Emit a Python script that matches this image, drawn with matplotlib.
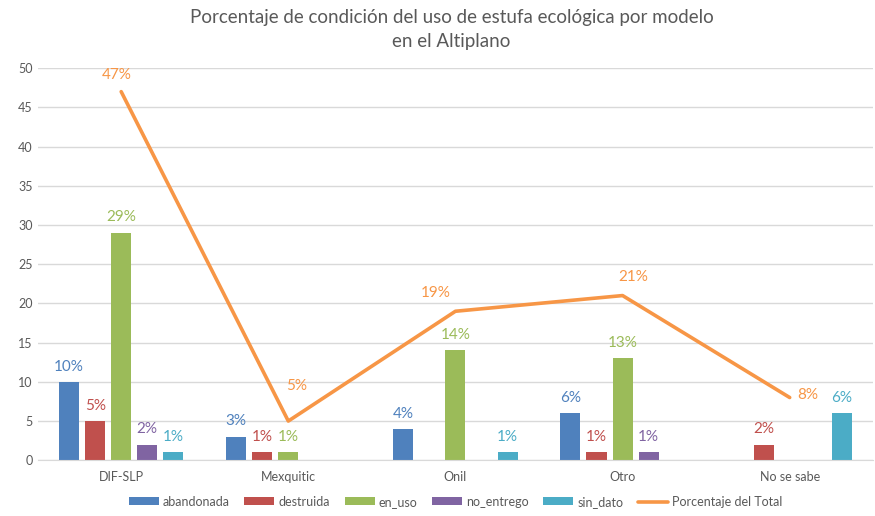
import numpy as np
import matplotlib
matplotlib.use("Agg")
import matplotlib.pyplot as plt
from matplotlib.ticker import MultipleLocator

plt.rcParams['font.family'] = ['Lato', 'DejaVu Sans']

# data
modelos = ["DIF-SLP", "Mexquitic", "Onil", "Otro", "No se sabe"]
abandonada = [10, 3, 4, 6, 0]
destruida = [5, 1, 0, 1, 2]
en_uso = [29, 1, 14, 13, 0]
no_entrego = [2, 0, 0, 1, 0]
sin_dato = [1, 0, 1, 0, 6]
porcentaje_total = [47, 5, 19, 21, 8]

series = [("abandonada", abandonada, "#4F81BD"),
          ("destruida", destruida, "#C0504D"),
          ("en_uso", en_uso, "#9BBB59"),
          ("no_entrego", no_entrego, "#8064A2"),
          ("sin_dato", sin_dato, "#4BACC6")]
line_color = "#F79646"
text_gray = "#595959"

fig = plt.figure(figsize=(8.75, 5.16), dpi=100)
ax = fig.add_axes([0.043, 0.108, 0.955, 0.76])

x = np.arange(len(modelos))
width = 0.12
step = 0.156

for i, (name, vals, color) in enumerate(series):
    pos = x + (i - 2) * step
    ax.bar(pos, vals, width, color=color, label=name, zorder=2)
    for p, v in zip(pos, vals):
        if v > 0:
            ax.annotate(f"{v}%", (p, v), xytext=(0, 6), textcoords="offset points",
                        ha="center", va="bottom", color=color, fontsize=11)

ax.plot(x, porcentaje_total, color=line_color, lw=2.6, label="Porcentaje del Total",
        zorder=3, solid_capstyle="round")
# label offsets (points) to mimic excel auto-placement
line_offsets = [(-3, 7), (6, 20), (-14, 8), (8, 8), (13, -3)]
for xi, v, off in zip(x, porcentaje_total, line_offsets):
    ax.annotate(f"{v}%", (xi, v), xytext=off, textcoords="offset points",
                ha="center", va="bottom", color=line_color, fontsize=11)

ax.set_xlim(-0.5, len(modelos) - 0.5)
ax.set_ylim(0, 50)
ax.yaxis.set_major_locator(MultipleLocator(5))
ax.set_xticks(x)
ax.set_xticklabels(modelos)
ax.tick_params(axis="both", length=0, colors=text_gray, labelsize=9)
ax.tick_params(axis="x", pad=8)
ax.grid(axis="y", color="#D9D9D9", lw=1, zorder=0)
for s in ["top", "right", "left"]:
    ax.spines[s].set_visible(False)
ax.spines["bottom"].set_color("#D9D9D9")

fig.text(0.516, 0.982, "Porcentaje de condición del uso de estufa ecológica por modelo\nen el Altiplano",
         ha="center", va="top", fontsize=13.5, color=text_gray, linespacing=1.45)

handles, labels = ax.get_legend_handles_labels()
handles = handles[1:] + handles[:1]
labels = labels[1:] + labels[:1]
ax.legend(handles, labels, loc="lower center", bbox_to_anchor=(0.5, -0.15), ncol=6,
          frameon=False, fontsize=9, labelcolor=text_gray, handlelength=2.4,
          handleheight=0.6, columnspacing=1.2, handletextpad=0.3)

fig.savefig("out.png", dpi=100)
